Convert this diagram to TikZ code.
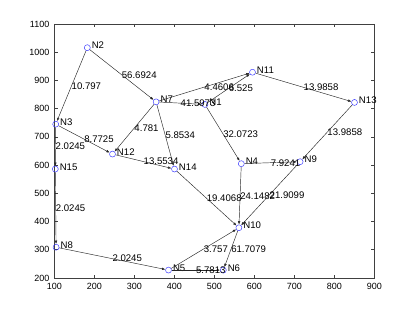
\documentclass[tikz,border=0pt]{standalone}
\usepackage{fontspec}
\setmainfont{Liberation Sans}
\usetikzlibrary{arrows.meta,calc}
\begin{document}
\begin{tikzpicture}[
  vtx/.style={circle,draw={rgb,255:red,50;green,50;blue,255},line width=0.45pt,minimum size=6pt,inner sep=0pt},
  vlab/.style={anchor=west,inner sep=0pt,font=\fontsize{9.6}{10}\selectfont},
  elab/.style={anchor=west,inner sep=0pt,font=\fontsize{9.6}{10}\selectfont},
  edge/.style={draw=black!85,line width=0.45pt,-{Latex[length=3.3pt,width=2.6pt]}},
  ticklab/.style={font=\fontsize{9}{10}\selectfont,inner sep=0pt},
  axisline/.style={draw=black!75,line width=0.6pt}
]
\useasboundingbox (0,0) rectangle (415pt,313pt);
\begin{scope}[x=0.4pt,y=0.28222pt,shift={(14.5pt,-21.44pt)}]
  % axes box
  \draw[axisline] (100,200) rectangle (900,1100);
  \foreach \x in {100,200,...,900} {
    \draw[axisline] (\x,200) -- ++(0,3pt);
    \draw[axisline] (\x,1100) -- ++(0,-3pt);
    \node[ticklab,anchor=north] (tx\x) at ([yshift=-5pt]\x,200) {\x};
  }
  \foreach \y in {200,300,...,1100} {
    \draw[axisline] (100,\y) -- ++(3pt,0);
    \draw[axisline] (900,\y) -- ++(-3pt,0);
    \node[ticklab,anchor=east] (ty\y) at ([xshift=-5pt]100,\y) {\y};
  }
  % vertices
  \foreach \n/\x/\y in {1/476/815,2/182/1016,3/103/745,4/567/605,5/385/228,
                        6/522/228,7/354/824,8/104/309,9/714/612,10/561/378,
                        11/595/929,12/245/639,13/850/822,14/400/586,15/102/586} {
    \node[vtx] (n\n) at (\x,\y) {};
    \node[vlab] (l\n) at ([xshift=4.3pt,yshift=2.3pt]n\n.center) {N\n};
  }
  % edges with weights
  \foreach \a/\b/\w in {2/3/10.797, 2/7/56.6924, 3/12/8.7725, 3/15/2.0245,
                        7/12/4.781, 7/14/5.8534, 7/1/41.5973, 7/11/4.4606,
                        1/11/6.525, 1/4/32.0723, 11/13/13.9858, 13/9/13.9858,
                        4/9/7.9241, 4/10/24.1482, 9/10/21.9099, 12/14/13.5534,
                        14/10/19.4068, 15/8/2.0245, 8/5/2.0245, 5/10/3.757,
                        10/6/61.7079, 5/6/5.7813} {
    \draw[edge] (n\a) -- (n\b);
    \node[elab] (w\a-\b) at ($(n\a.center)!0.5!(n\b.center)$) {\w};
  }
\end{scope}
\end{tikzpicture}
\end{document}
